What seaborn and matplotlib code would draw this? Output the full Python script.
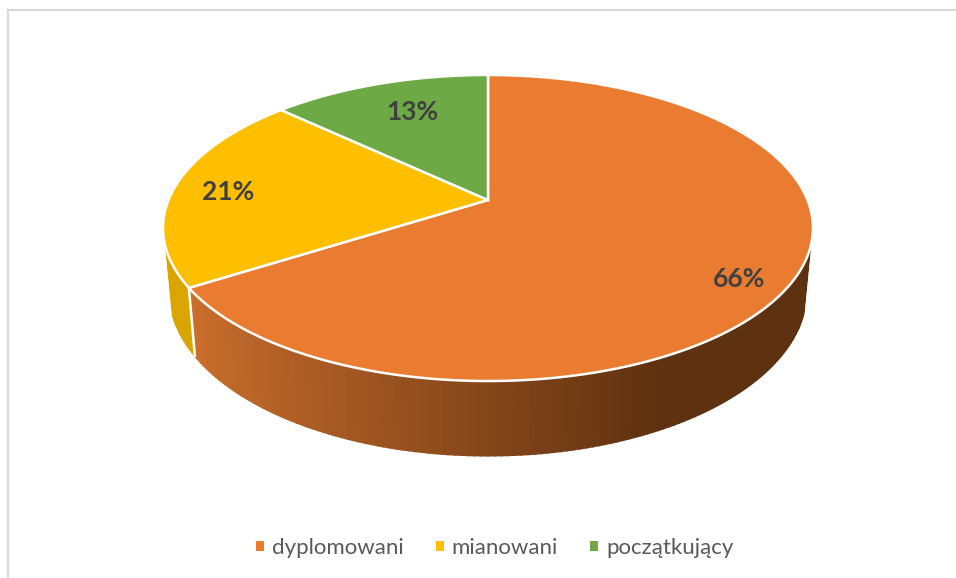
import numpy as np
import seaborn as sns
import matplotlib.pyplot as plt
from matplotlib.patches import Patch
from matplotlib.colors import to_rgb

categories = ["dyplomowani", "mianowani", "początkujący"]
percent = [66, 21, 13]
colors = ["#E97C30", "#FDBF00", "#6DA945"]
side_colors = ["#5E3110", "#DBA500", "#5F9339"]

sns.set_theme(style="white")
plt.rcParams['font.family'] = ['Lato', 'DejaVu Sans']
palette = sns.color_palette(colors)

fig = plt.figure(figsize=(9.56, 5.78), dpi=100)
ax = fig.add_axes([0, 0, 1, 1])
ax.set_xlim(0, 956)
ax.set_ylim(578, 0)
ax.axis("off")

# chart frame (open at the bottom, the picture is cropped there)
ax.plot([8, 8, 956], [578, 10, 10], color="#D9D9D9", lw=1.6, solid_joinstyle="miter", zorder=0)


# perspective view of the disc, t in degrees clockwise from the top
def top_rim(t, r=1.0):
    t = np.radians(t)
    u = r * np.sin(t)
    v = -r * np.cos(t)
    d = 1 - 0.183 * v
    return 488 + 319.5 * u / d, 200 + 147.9 * v / d


def low_rim(t):
    x, y = top_rim(t)
    return 488 + 0.98 * (x - 488), 262 + 1.07 * (y - 200)


edges = np.concatenate([[0], np.cumsum(percent)]) * 3.6

# side of the disc, strip by strip so the orange can go darker to the right
for i in range(len(percent)):
    ts = np.arange(edges[i], edges[i + 1] + 0.5, 1.0)
    ts = ts[(np.cos(np.radians(ts)) < -0.3)]
    for a, b in zip(ts[:-1], ts[1:]):
        xa, ya = top_rim(a)
        xb, yb = top_rim(b)
        xc, yc = low_rim(b)
        xd, yd = low_rim(a)
        if i == 0:
            k = np.clip((np.sin(np.radians((a + b) / 2)) + 0.85) / 1.3, 0, 1)
            c = (1 - k) * np.array(to_rgb("#CB6E2D")) + k * np.array(to_rgb(side_colors[0]))
        else:
            c = side_colors[i]
        ax.fill([xa, xb, xc, xd], [ya, yb, yc, yd], color=c, lw=1.2, zorder=1)

# white seam on the side between orange and yellow
xs, ys = top_rim(edges[1])
xe, ye = low_rim(edges[1])
ax.plot([xs, xe], [ys, ye], color="white", lw=1.8, zorder=2)

# top of the disc
for i in range(len(percent)):
    ts = np.linspace(edges[i], edges[i + 1], 200)
    x, y = top_rim(ts)
    ax.fill(np.r_[488, x], np.r_[200, y], facecolor=palette[i], edgecolor="white",
            lw=1.8, joinstyle="miter", zorder=3)

# data labels
label_r = 0.83
label_shift = [(0, 15), (0, 3), (17, 11)]
for i in range(len(percent)):
    lx, ly = top_rim((edges[i] + edges[i + 1]) / 2, label_r)
    ax.text(lx + label_shift[i][0], ly + label_shift[i][1], f"{percent[i]}%",
            ha="center", va="center", fontsize=19, fontweight="bold", color="#404040", zorder=4)

handles = [Patch(facecolor=palette[i], edgecolor="none", label=categories[i]) for i in range(len(categories))]
ax.legend(handles=handles, loc="center", bbox_to_anchor=(494.5 / 956, 1 - 548 / 578), ncol=3,
          frameon=False, fontsize=16, labelcolor="#595959", handlelength=0.36, handleheight=0.36,
          handletextpad=0.36, columnspacing=1.45)

plt.savefig("out.png", dpi=100)
